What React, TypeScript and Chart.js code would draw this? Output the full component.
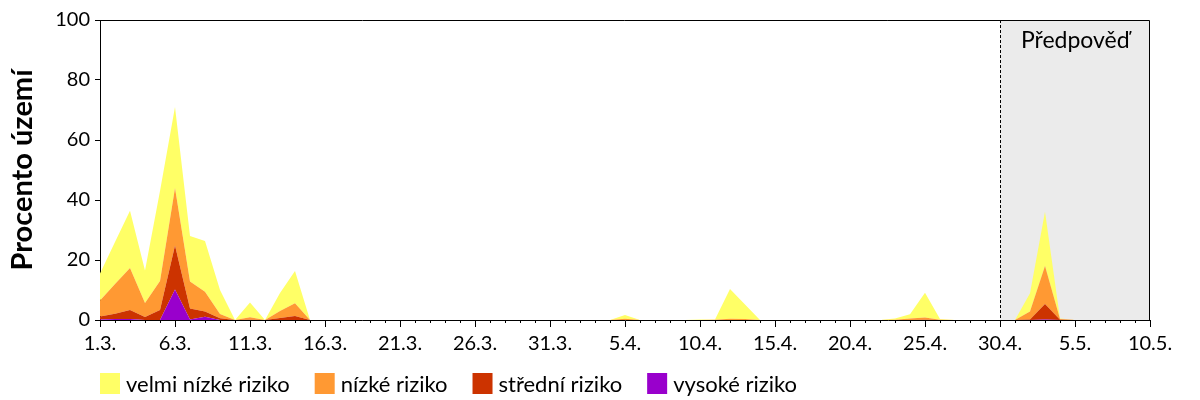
import React, { useEffect, useRef } from 'react';
import { Chart, registerables } from 'chart.js';

Chart.register(...registerables);

const categories = [
  '1.3.', '2.3.', '3.3.', '4.3.', '5.3.', '6.3.', '7.3.', '8.3.', '9.3.', '10.3.',
  '11.3.', '12.3.', '13.3.', '14.3.', '15.3.', '16.3.', '17.3.', '18.3.', '19.3.', '20.3.',
  '21.3.', '22.3.', '23.3.', '24.3.', '25.3.', '26.3.', '27.3.', '28.3.', '29.3.', '30.3.',
  '31.3.', '1.4.', '2.4.', '3.4.', '4.4.', '5.4.', '6.4.', '7.4.', '8.4.', '9.4.',
  '10.4.', '11.4.', '12.4.', '13.4.', '14.4.', '15.4.', '16.4.', '17.4.', '18.4.', '19.4.',
  '20.4.', '21.4.', '22.4.', '23.4.', '24.4.', '25.4.', '26.4.', '27.4.', '28.4.', '29.4.',
  '30.4.', '1.5.', '2.5.', '3.5.', '4.5.', '5.5.', '6.5.', '7.5.', '8.5.', '9.5.',
  '10.5.',
];

// index of the first forecast day (30.4.)
const forecastStart = 60;

const vysokeRiziko = [
  0.2, 0.3, 0.3, 0, 0, 10.2, 0.2, 1.1, 0, 0,
  0, 0, 0, 0, 0, 0, 0, 0, 0, 0,
  0, 0, 0, 0, 0, 0, 0, 0, 0, 0,
  0, 0, 0, 0, 0, 0, 0, 0, 0, 0,
  0, 0, 0, 0, 0, 0, 0, 0, 0, 0,
  0, 0, 0, 0, 0, 0, 0, 0, 0, 0,
  0, 0, 0, 0.2, 0, 0, 0, 0, 0, 0,
  0,
];

const stredniRiziko = [
  1.0, 1.8, 3.0, 1.0, 3.3, 14.6, 3.6, 1.7, 0.6, 0,
  0.1, 0, 0.7, 1.3, 0, 0, 0, 0, 0, 0,
  0, 0, 0, 0, 0, 0, 0, 0, 0, 0,
  0, 0, 0, 0, 0, 0, 0, 0, 0, 0,
  0, 0, 0, 0, 0, 0, 0, 0, 0, 0,
  0, 0, 0, 0, 0, 0.1, 0, 0, 0, 0,
  0, 0, 0.2, 5.1, 0.1, 0, 0, 0, 0, 0,
  0,
];

const nizkeRiziko = [
  5.3, 9.9, 14.0, 4.7, 9.7, 19.2, 9.0, 6.6, 1.4, 0,
  0.8, 0, 2.3, 4.3, 0, 0, 0, 0, 0, 0,
  0, 0, 0, 0, 0, 0, 0, 0, 0, 0,
  0, 0, 0, 0, 0, 0.4, 0, 0, 0, 0,
  0, 0.1, 0.4, 0.3, 0, 0, 0, 0, 0, 0,
  0, 0, 0, 0.1, 0.5, 0.7, 0.1, 0, 0, 0,
  0, 0, 2.6, 12.7, 0.2, 0, 0, 0, 0, 0,
  0,
];

const velmiNizkeRiziko = [
  9.0, 14.0, 19.1, 10.8, 30.0, 27.0, 15.2, 16.9, 8.0, 0,
  4.9, 0, 6.0, 10.7, 0, 0, 0, 0, 0, 0,
  0, 0, 0, 0, 0, 0, 0, 0, 0, 0,
  0, 0, 0, 0, 0, 1.3, 0, 0, 0, 0,
  0.2, 0.1, 9.9, 4.9, 0, 0, 0, 0, 0, 0,
  0, 0, 0, 0.4, 1.4, 8.3, 0.2, 0, 0, 0,
  0, 0, 6.1, 18.1, 0.2, 0, 0, 0, 0, 0,
  0,
];

const yTicks = [0, 20, 40, 60, 80, 100];

const FONT = 'Lato';

const forecastPlugin = {
  id: 'forecast',
  beforeDatasetsDraw(chart: any) {
    const { ctx, chartArea } = chart;
    const x0 = chart.scales.x.getPixelForValue(forecastStart);
    ctx.save();
    ctx.fillStyle = '#ebebeb';
    ctx.fillRect(x0, chartArea.top, chartArea.right - x0, chartArea.bottom - chartArea.top);
    ctx.restore();
  },
  afterDatasetsDraw(chart: any) {
    const { ctx, chartArea } = chart;
    const x0 = Math.round(chart.scales.x.getPixelForValue(forecastStart)) + 0.5;
    ctx.save();
    ctx.strokeStyle = '#000';
    ctx.lineWidth = 1;
    ctx.setLineDash([3, 2]);
    ctx.beginPath();
    ctx.moveTo(x0, chartArea.top);
    ctx.lineTo(x0, chartArea.bottom);
    ctx.stroke();
    ctx.setLineDash([]);
    // top and right frame
    const t = Math.round(chartArea.top) + 0.5;
    const r = Math.round(chartArea.right) - 0.5;
    ctx.beginPath();
    ctx.moveTo(chartArea.left, t);
    ctx.lineTo(r, t);
    ctx.lineTo(r, chartArea.bottom);
    ctx.stroke();
    ctx.fillStyle = '#000';
    ctx.font = `23px ${FONT}`;
    ctx.textAlign = 'center';
    ctx.textBaseline = 'middle';
    ctx.fillText('Předpověď', (x0 + chartArea.right) / 2, chartArea.top + 21);
    ctx.restore();
  },
};

const minorTicksPlugin = {
  id: 'minorTicks',
  afterDraw(chart: any) {
    const { ctx, chartArea } = chart;
    const xs = chart.scales.x;
    ctx.save();
    ctx.strokeStyle = '#000';
    ctx.lineWidth = 1;
    ctx.beginPath();
    for (let i = 0; i < categories.length; i++) {
      if (i % 5 === 0) continue;
      const x = Math.round(xs.getPixelForValue(i)) + 0.5;
      ctx.moveTo(x, chartArea.bottom);
      ctx.lineTo(x, chartArea.bottom + 3);
    }
    ctx.stroke();
    ctx.restore();
  },
};

const legendPlugin = {
  id: 'customLegend',
  afterDraw(chart: any) {
    const { ctx, chartArea } = chart;
    const items = [...chart.data.datasets].reverse();
    ctx.save();
    ctx.font = `22px ${FONT}`;
    ctx.textBaseline = 'middle';
    ctx.textAlign = 'left';
    let x = chartArea.left;
    const boxTop = 373;
    const boxW = 20;
    const boxH = 21;
    for (const ds of items) {
      ctx.fillStyle = ds.backgroundColor;
      ctx.fillRect(x, boxTop, boxW, boxH);
      ctx.fillStyle = '#000';
      const tx = x + boxW + 6;
      ctx.fillText(ds.label, tx, boxTop + boxH / 2 + 1);
      x = tx + ctx.measureText(ds.label).width + 25;
    }
    ctx.restore();
  },
};

export default function App() {
  const canvasRef = useRef<HTMLCanvasElement | null>(null);

  useEffect(() => {
    const canvas = canvasRef.current;
    if (!canvas) return;
    const common = {
      borderWidth: 0,
      borderColor: 'rgba(0,0,0,0)',
      pointRadius: 0,
      pointHoverRadius: 0,
      tension: 0,
    };
    const chart = new Chart(canvas, {
      type: 'line',
      data: {
        labels: categories,
        datasets: [
          { ...common, label: 'vysoké riziko', data: vysokeRiziko, backgroundColor: '#9900CC', fill: 'origin' },
          { ...common, label: 'střední riziko', data: stredniRiziko, backgroundColor: '#CC3300', fill: '-1' },
          { ...common, label: 'nízké riziko', data: nizkeRiziko, backgroundColor: '#FF9933', fill: '-1' },
          { ...common, label: 'velmi nízké riziko', data: velmiNizkeRiziko, backgroundColor: '#FFFF66', fill: '-1' },
        ],
      },
      options: {
        animation: false,
        responsive: true,
        maintainAspectRatio: false,
        layout: { padding: { top: 20, right: 50, bottom: 40, left: 0 } },
        plugins: {
          legend: { display: false },
          tooltip: { enabled: false },
        },
        scales: {
          x: {
            type: 'category',
            offset: false,
            grid: {
              display: true,
              drawOnChartArea: false,
              drawTicks: true,
              tickLength: 7,
              tickColor: (c: any) => (c.index % 5 === 0 ? '#000' : 'rgba(0,0,0,0)'),
            },
            border: { display: true, color: '#000', width: 1 },
            ticks: {
              autoSkip: false,
              maxRotation: 0,
              minRotation: 0,
              padding: 5,
              color: '#000',
              font: { family: FONT, size: 20 },
              callback: (_v: any, i: number) => (i % 5 === 0 ? categories[i] : ''),
            },
            afterFit: (s: any) => {
              s.height = 40;
            },
          },
          y: {
            stacked: true,
            min: 0,
            max: 100,
            afterBuildTicks: (s: any) => {
              s.ticks = yTicks.map((v) => ({ value: v }));
            },
            grid: {
              display: true,
              drawOnChartArea: false,
              drawTicks: true,
              tickLength: 5,
              tickColor: '#000',
            },
            border: { display: true, color: '#000', width: 1 },
            ticks: {
              padding: 5,
              color: '#000',
              font: { family: FONT, size: 20 },
            },
            title: {
              display: true,
              text: 'Procento území',
              color: '#000',
              font: { family: FONT, size: 29, weight: 'bold' },
              padding: { top: 5, bottom: 0 },
            },
            afterFit: (s: any) => {
              s.width = 100;
            },
          },
        },
      },
      plugins: [forecastPlugin, minorTicksPlugin, legendPlugin],
    } as any);
    return () => chart.destroy();
  }, []);

  return (
    <div style={{ position: 'fixed', left: 0, top: 0, width: 1200, height: 400, background: '#fff' }}>
      <canvas ref={canvasRef} />
    </div>
  );
}
